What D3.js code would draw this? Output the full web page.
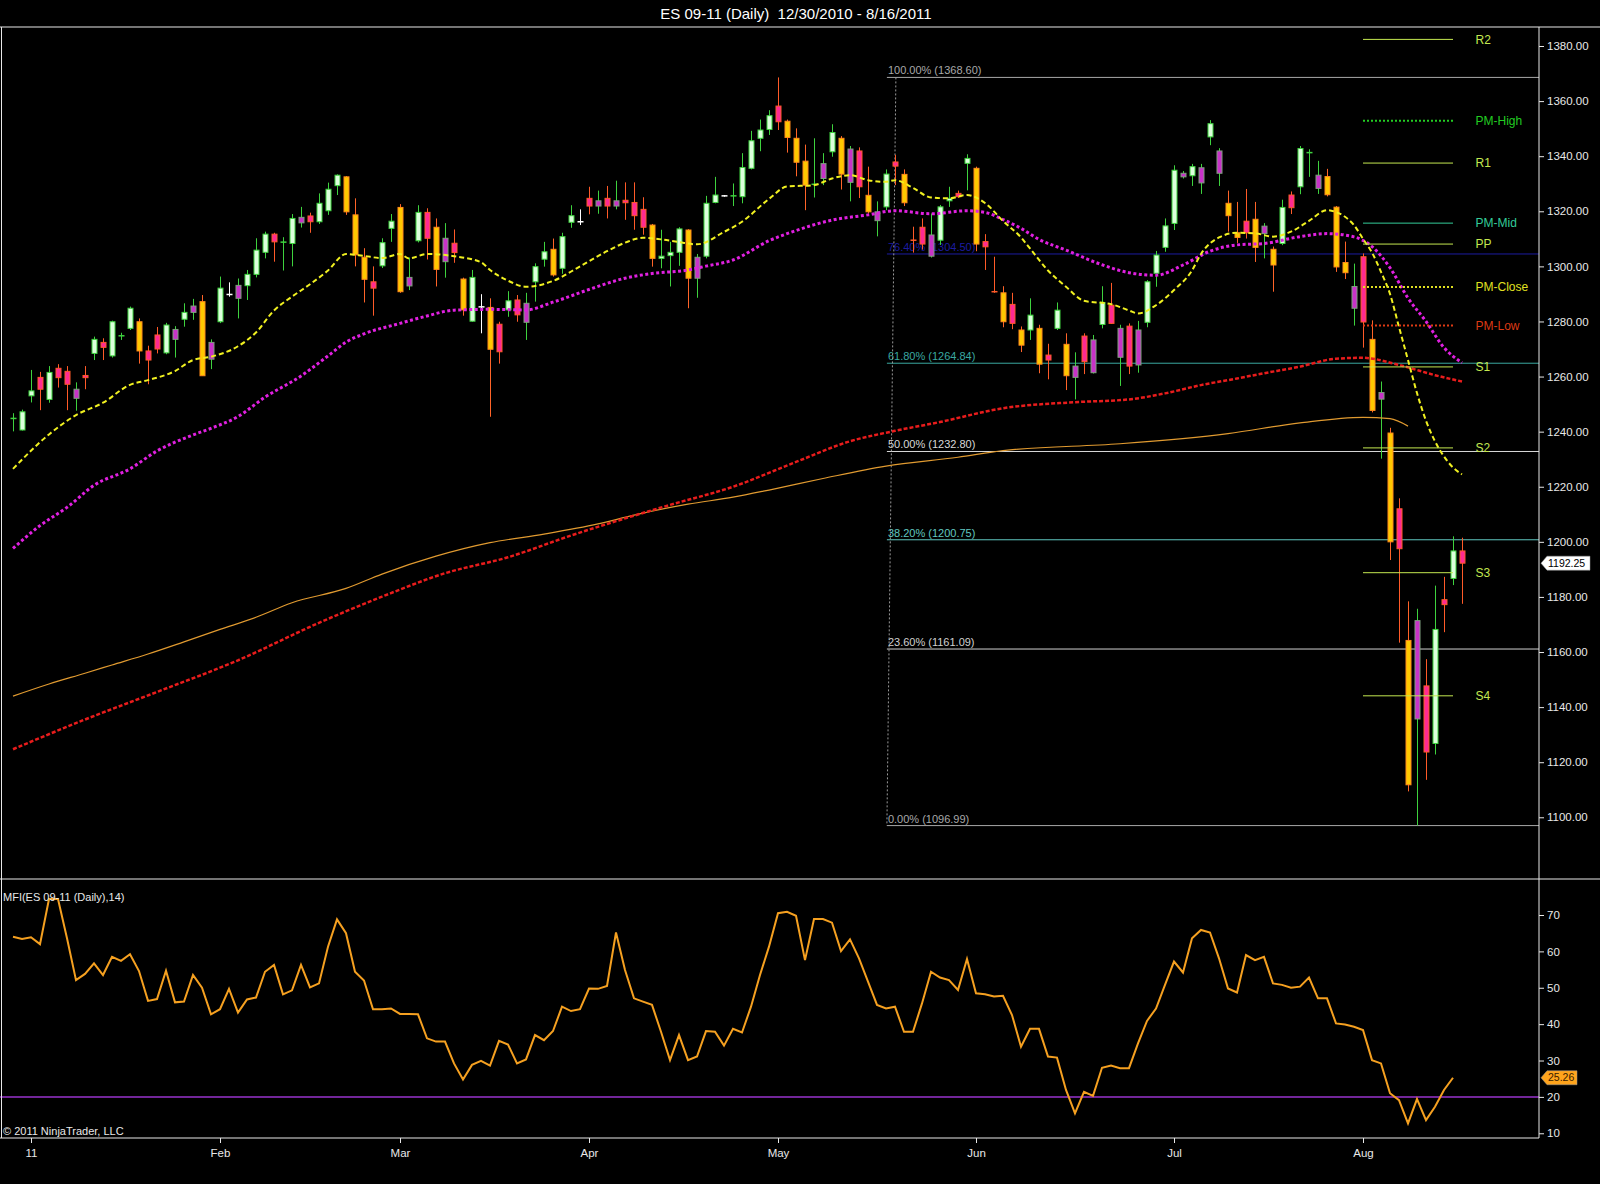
<!DOCTYPE html>
<html lang="en">
<head>
<meta charset="UTF-8" />
<title>ES 09-11 (Daily)</title>
<script src="https://d3js.org/d3.v7.min.js"></script>
<style>
  body { margin: 0; background: #000; }
  svg { display: block; }
  text { font-family: "Liberation Sans Narrow", "Arial Narrow", "Liberation Sans", Arial, sans-serif; }
</style>
</head>
<body>
<svg id="chart" width="1600" height="1184"></svg>
<script>
// ---- data (bar index 0 = 12/30/2010, 161 = 8/16/2011) ----
const opens = [
  1244.3,1240.6,1253.0,1259.7,1251.7,1263.0,1261.9,1252.1,1260.4,1268.4,
  1272.4,1267.5,1274.5,1277.5,1279.9,1269.3,1275.1,1268.6,1273.5,1280.8,
  1283.3,1287.2,1266.3,1279.9,1289.8,1288.4,1293.0,1297.1,1305.1,1311.7,
  1308.5,1308.3,1315.8,1318.3,1316.2,1320.2,1329.3,1332.5,1318.7,1303.3,
  1294.4,1300.2,1313.8,1321.4,1292.9,1309.3,1319.6,1314.2,1301.7,1308.4,
  1295.4,1280.1,1285.3,1285.1,1279.0,1284.2,1287.8,1279.7,1294.4,1302.6,
  1306.2,1299.3,1316.0,1316.2,1324.7,1321.9,1324.7,1321.9,1324.0,1323.2,
  1320.7,1315.0,1302.9,1303.9,1305.1,1313.2,1295.7,1303.7,1323.2,1325.6,
  1325.5,1325.3,1335.6,1346.5,1349.7,1358.2,1352.7,1346.5,1338.2,1329.5,
  1331.9,1341.6,1346.5,1330.5,1341.9,1325.8,1316.6,1321.6,1337.9,1333.4,
  1309.5,1314.2,1303.7,1309.5,1323.8,1326.5,1337.4,1335.6,1309.0,1290.8,
  1290.4,1286.2,1276.9,1276.9,1277.5,1267.8,1277.5,1271.7,1259.7,1274.7,
  1261.4,1278.9,1285.9,1267.0,1278.3,1264.2,1279.7,1297.5,1306.9,1315.6,
  1332.5,1332.9,1330.3,1347.0,1333.8,1322.9,1312.2,1316.4,1317.1,1311.9,
  1306.2,1308.3,1325.9,1328.9,1341.0,1328.3,1332.6,1321.5,1301.4,1284.8,
  1303.5,1273.5,1251.8,1239.5,1212.0,1164.2,1135.7,1147.7,1126.8,1179.0,
  1186.7,1196.7
];
const highs = [
  1246.7,1248.0,1262.4,1261.7,1263.8,1264.5,1263.8,1257.9,1263.8,1274.5,
  1273.9,1280.3,1275.9,1285.4,1281.1,1271.2,1278.0,1279.5,1278.3,1286.6,
  1288.2,1289.6,1273.5,1296.3,1294.2,1295.6,1298.7,1310.2,1312.6,1312.2,
  1310.6,1319.0,1321.6,1319.5,1326.5,1330.4,1333.4,1332.8,1324.7,1306.6,
  1300.0,1310.2,1319.0,1322.6,1303.2,1322.2,1321.1,1317.4,1315.7,1313.4,
  1295.9,1298.7,1289.9,1288.4,1279.9,1291.0,1289.6,1290.4,1301.1,1308.9,
  1310.1,1312.2,1322.2,1320.7,1328.9,1327.5,1329.2,1331.1,1330.5,1330.5,
  1325.1,1315.4,1313.3,1308.9,1314.2,1313.5,1304.5,1325.6,1332.5,1325.9,
  1330.1,1341.1,1349.2,1353.3,1356.7,1368.6,1353.3,1350.1,1344.2,1346.5,
  1341.1,1351.6,1347.3,1343.7,1343.2,1336.2,1323.6,1335.2,1340.5,1335.2,
  1314.4,1317.4,1319.2,1322.3,1328.9,1327.5,1340.7,1336.2,1311.7,1303.5,
  1292.8,1290.4,1278.2,1288.4,1278.8,1271.9,1286.9,1275.7,1268.8,1275.7,
  1275.1,1292.8,1294.0,1278.8,1279.3,1280.2,1295.0,1305.6,1317.4,1336.7,
  1334.6,1337.2,1337.2,1353.1,1342.9,1327.5,1323.4,1328.1,1323.4,1315.7,
  1307.2,1324.2,1327.2,1343.7,1342.5,1338.3,1335.4,1321.9,1309.0,1301.0,
  1304.7,1280.4,1258.2,1241.4,1215.8,1178.4,1175.7,1157.4,1184.1,1187.3,
  1202.0,1201.5
];
const lows = [
  1240.1,1240.4,1250.6,1247.8,1250.5,1256.0,1247.8,1247.6,1255.4,1266.0,
  1266.0,1266.9,1273.3,1276.9,1264.7,1257.2,1268.4,1268.1,1266.9,1278.1,
  1280.6,1260.3,1262.7,1279.4,1289.0,1281.1,1287.8,1296.0,1302.9,1301.7,
  1298.5,1300.0,1314.1,1312.2,1315.4,1318.7,1325.9,1318.7,1300.0,1286.9,
  1282.1,1299.4,1308.9,1290.4,1291.4,1308.7,1302.5,1292.7,1295.9,1301.3,
  1282.1,1279.9,1275.7,1245.4,1264.7,1281.7,1279.9,1273.3,1287.2,1299.9,
  1296.3,1297.3,1314.0,1315.0,1318.9,1319.1,1317.4,1320.7,1316.9,1313.3,
  1311.5,1299.9,1299.3,1292.7,1300.2,1284.8,1288.6,1302.9,1322.9,1325.3,
  1321.9,1322.9,1335.2,1341.8,1347.7,1349.5,1341.3,1332.7,1320.4,1325.0,
  1329.5,1339.8,1327.9,1323.6,1324.8,1319.2,1310.9,1320.4,1329.5,1321.9,
  1305.0,1306.1,1303.2,1307.8,1321.6,1324.8,1327.6,1305.5,1298.7,1290.4,
  1277.9,1277.2,1268.9,1273.3,1261.2,1259.0,1276.9,1255.1,1251.7,1260.9,
  1261.1,1277.5,1279.1,1256.6,1260.9,1261.4,1277.9,1292.6,1305.3,1313.2,
  1331.9,1329.2,1326.3,1344.0,1329.2,1312.6,1308.5,1310.1,1301.6,1302.9,
  1290.8,1307.7,1319.0,1326.2,1332.5,1326.3,1325.4,1298.0,1295.4,1278.5,
  1270.5,1247.0,1230.2,1193.4,1163.4,1109.4,1097.0,1113.6,1122.8,1167.2,
  1184.3,1177.5
];
const closes = [
  1244.8,1247.2,1254.8,1255.4,1261.5,1259.6,1257.2,1255.4,1259.6,1273.5,
  1270.6,1279.9,1274.8,1284.8,1269.3,1266.0,1270.0,1278.7,1277.1,1283.3,
  1285.6,1260.3,1272.4,1292.1,1289.8,1293.1,1297.1,1305.9,1311.7,1308.9,
  1308.8,1317.4,1317.8,1316.2,1322.9,1328.0,1333.1,1319.8,1304.2,1295.3,
  1292.1,1308.6,1316.4,1290.8,1296.0,1319.6,1310.2,1298.9,1310.2,1305.0,
  1284.2,1296.0,1285.3,1269.9,1269.0,1287.5,1282.4,1286.6,1299.9,1305.3,
  1296.9,1310.8,1318.4,1316.2,1321.9,1323.8,1321.9,1323.8,1323.1,1318.4,
  1314.2,1302.9,1303.7,1305.1,1313.6,1295.7,1303.3,1322.9,1325.9,1325.6,
  1325.6,1335.9,1345.6,1349.5,1354.7,1352.5,1346.8,1337.8,1329.5,1329.8,
  1337.3,1348.6,1333.5,1342.6,1328.9,1319.8,1319.8,1333.5,1336.4,1323.1,
  1309.5,1308.1,1311.4,1321.6,1324.7,1325.3,1339.2,1308.1,1307.1,1290.8,
  1279.9,1279.3,1271.4,1282.3,1264.5,1266.0,1284.1,1260.3,1263.8,1265.4,
  1273.3,1286.9,1279.3,1277.5,1263.8,1276.9,1294.4,1304.1,1314.7,1334.9,
  1333.8,1336.2,1335.8,1351.8,1341.9,1318.4,1310.5,1312.2,1306.9,1314.6,
  1300.5,1321.4,1321.3,1342.8,1341.3,1333.1,1326.0,1299.8,1297.7,1292.7,
  1279.8,1247.7,1254.2,1200.0,1197.5,1111.8,1171.4,1123.7,1168.2,1177.2,
  1196.7,1192.25
];
// bar paint: G up, V up (weaker), Y down, P down (weaker), g/w/r doji crosses
const paint = (
  "gGGPGPPVPG" + "PGgGYPPGVG" + "VYVGwVGGGP" + "gGVPGGGYYY" + "PGGYVGPYVP" +
  "YGwYPGPVGG" + "YGGwPVPVPP" + "PYGGGYVGGw" + "gGGGGPYYYg" + "VGYVPYVGPY" +
  "rPVGGPGYPr" + "YPYGYPGYVP" + "VGPVPVGGGG" + "VGVGVYYPYV" + "YGPGgVYYYV" +
  "PYVYPYVPGP" + "GP"
).split("");

// moving averages, sampled [bar index, price]
const maYellow = [[0,1226.5],[4,1239],[7,1246],[10,1250.5],[13,1257],[15,1258.7],[18,1262],[20,1266],[22,1267.2],[25,1271],[27,1276],[29,1284],[31,1289],[33,1293.5],[35,1298.5],[37,1304.5],[39,1303.8],[41,1303],[43,1304.5],[44,1302.9],[46,1304.5],[49,1303.7],[52,1301.5],[53,1298.7],[55,1294.8],[57,1292.6],[60,1294.7],[63,1300],[66,1305.5],[68,1308.6],[70,1310.4],[72,1309.8],[74,1308.8],[76,1308],[79,1312.5],[81,1316.2],[84,1324.5],[86,1329],[89,1329.5],[91,1331.9],[93,1333.1],[95,1331.3],[97,1330.7],[98,1331.3],[100,1328.5],[102,1325],[104,1324.7],[106,1325.9],[108,1323],[110,1316.5],[112,1310.5],[113,1306.5],[115,1298.5],[117,1292.6],[119,1287.5],[122,1286.3],[124,1284],[125,1282.9],[127,1285.9],[129,1291.4],[131,1298.5],[132,1304.5],[134,1310.5],[136,1312.2],[138,1312],[140,1310.8],[142,1312.6],[144,1316.5],[146,1320.4],[147,1319.7],[148,1318],[149,1315],[150,1310],[151,1305],[152,1298],[153,1290],[154,1278],[155,1266],[156,1254],[157,1244],[158,1236.5],[159,1231],[160,1227],[161,1224.5]];
const maMagenta = [[0,1197.6],[3,1205.9],[6,1212.5],[9,1220.5],[13,1226.5],[16,1233],[20,1238.8],[22,1241.2],[25,1245.5],[28,1252.5],[32,1260.2],[35,1267.5],[37,1272.5],[39,1275.5],[43,1279.3],[46,1282],[49,1284.1],[53,1284.4],[57,1284.2],[60,1287],[64,1291.6],[68,1295.7],[71,1297.4],[75,1298.7],[77,1300.1],[80,1302.3],[84,1309.3],[87,1313],[91,1316.8],[95,1318.7],[98,1320.2],[102,1319.1],[106,1320.2],[108,1319.6],[110,1317],[112,1313.8],[114,1309.8],[117,1305.9],[121,1300.6],[124,1297.7],[127,1296.8],[130,1300.5],[133,1305.5],[136,1307.8],[139,1308.3],[143,1310.8],[146,1311.9],[149,1310.7],[151,1307.2],[153,1299.5],[155,1288.5],[157,1280],[159,1270.5],[161,1265]];
const maRed = [[0,1124.7],[8,1135.5],[16,1145.5],[25,1157],[34,1170.6],[41,1180.1],[48,1188.6],[55,1194.4],[62,1202.3],[67,1207.5],[73,1213.4],[80,1220],[87,1229],[93,1236.5],[98,1240.3],[103,1243.5],[110,1248.5],[118,1250.7],[124,1251.7],[128,1253.9],[132,1256.9],[136,1259.3],[139,1261.2],[143,1263.6],[147,1266.5],[150,1266.8],[154,1264.2],[158,1260.5],[161,1258.2]];
const maOrange = [[0,1144],[4,1148.4],[8,1152.3],[11,1155.3],[15,1159.3],[19,1163.7],[23,1168.2],[27,1172.6],[31,1177.9],[37,1183.1],[41,1188.3],[47,1194.8],[53,1199.7],[59,1202.8],[65,1206.5],[69,1209.7],[75,1213.7],[80,1216.2],[84,1218.8],[90,1223],[97,1227.5],[105,1230.7],[110,1233.1],[123,1235.6],[135,1239.3],[143,1243.2],[150,1245.2],[153,1244.7],[155,1242]];

// MFI(14), one value per bar from bar 0
const mfi = [
  64.0,63.4,63.9,62.0,74.4,74.4,63.6,52.1,53.8,56.7,
  53.5,58.5,57.4,59.2,54.6,46.4,46.9,54.7,46.0,46.2,
  53.5,50.0,42.7,44.1,49.7,43.2,46.8,47.3,54.4,56.3,
  48.2,49.3,56.3,50.1,51.2,61.3,68.8,65.0,54.4,52.0,
  44.1,44.1,44.3,42.8,42.8,42.7,36.1,35.2,35.2,29.2,
  24.8,28.8,29.9,28.6,35.4,34.4,29.2,30.3,37.0,35.6,
  38.1,44.8,43.6,44.1,49.8,49.7,50.5,65.2,54.9,47.1,
  46.2,45.3,37.9,30.1,37.0,30.1,31.1,38.1,37.9,34.1,
  38.7,37.7,44.8,53.5,61.3,70.5,70.9,69.8,57.6,68.9,
  68.9,67.9,60.1,63.3,58.1,51.7,45.3,44.3,44.8,37.9,
  37.9,45.7,54.4,52.8,52.1,49.4,57.9,48.5,48.2,47.6,
  47.8,42.5,33.8,38.7,38.7,31.1,30.8,21.9,15.5,21.4,
  20.3,28.0,28.6,27.9,27.9,34.7,40.9,44.3,50.8,57.2,
  54.2,63.6,65.9,65.2,58.1,49.8,48.7,59.0,57.6,58.5,
  51.2,50.8,50.0,50.3,52.8,47.1,47.1,40.2,39.9,39.3,
  38.4,30.1,29.2,21.0,19.1,12.7,19.4,13.6,17.3,21.9,
  25.26
];

// fibonacci retracement of the May high / Aug low
const fibPct = ["100.00%","76.40%","61.80%","50.00%","38.20%","23.60%","0.00%"];
const fibPrice = [1368.60,1304.50,1264.84,1232.80,1200.75,1161.09,1096.99];
const fibColor = ["#a8a8a8","#1c1ca0","#3aa8a0","#d8d8d8","#60c8c0","#d0d0d0","#a8a8a8"];
const fibAnchor = [[98.1,1368.60],[97.1,1096.99]];

// pivots
const pivotNames = ["R2","PM-High","R1","PM-Mid","PP","PM-Close","PM-Low","S1","S2","S3","S4"];
const pivotValues = [1382.4,1352.9,1337.5,1315.7,1308.1,1292.5,1278.5,1263.5,1234.1,1188.8,1144.1];
const pivotColor = ["#c4e850","#22cc22","#c4e850","#33cc99","#c4e850","#e0e020","#dd3a14","#c4e850","#c4e850","#c4e850","#c4e850"];
const pivotDotted = [false,true,false,false,false,true,true,false,false,false,false];

// axes
const priceTicks = [1100,1120,1140,1160,1180,1200,1220,1240,1260,1280,1300,1320,1340,1360,1380];
const mfiTicks = [10,20,30,40,50,60,70];
const monthIdx = [2,23,43,64,85,107,129,150];
const monthLabels = ["11","Feb","Mar","Apr","May","Jun","Jul","Aug"];

// ---- layout ----
const axisX = 1539, topY = 27, priceBot = 879, mfiBot = 1138;
const svg = d3.select("#chart");
svg.append("rect").attr("width", 1600).attr("height", 1184).attr("fill", "#000");

const x = d3.scaleLinear().domain([0, 161]).range([13, 1462]);
const y = d3.scaleLinear().domain([1077.6, 1386.9]).range([priceBot, topY]);
const yM = d3.scaleLinear().domain([8.7, 79.9]).range([mfiBot, priceBot]);

svg.append("clipPath").attr("id", "pclip").append("rect")
  .attr("x", 0).attr("y", topY).attr("width", axisX).attr("height", priceBot - topY);

// title
svg.append("text").attr("x", 796).attr("y", 19).attr("text-anchor", "middle")
  .attr("fill", "#fff").attr("font-size", 15)
  .text("ES 09-11 (Daily)\u00A0\u00A012/30/2010 - 8/16/2011");

const pane = svg.append("g").attr("clip-path", "url(#pclip)");

// fib levels
const fibX0 = x(fibAnchor[1][0]);
fibPrice.forEach((p, i) => {
  pane.append("line").attr("x1", fibX0).attr("x2", axisX)
    .attr("y1", y(p)).attr("y2", y(p))
    .attr("stroke", fibColor[i]).attr("stroke-width", 1);
  pane.append("text").attr("x", fibX0 + 1).attr("y", y(p) - 3)
    .attr("fill", fibColor[i]).attr("font-size", 11)
    .text(fibPct[i] + " (" + p.toFixed(2) + ")");
});
pane.append("line")
  .attr("x1", x(fibAnchor[0][0])).attr("y1", y(fibAnchor[0][1]))
  .attr("x2", x(fibAnchor[1][0])).attr("y2", y(fibAnchor[1][1]))
  .attr("stroke", "#9a9a9a").attr("stroke-width", 1).attr("stroke-dasharray", "2,2");

// candles
const bodyCol = {
  G: { fill: "#dcffdc", stroke: "#3ed23e", wick: "#3ed23e" },
  V: { fill: "#c832c8", stroke: "#7f9f7f", wick: "#3ed23e" },
  Y: { fill: "#ffc800", stroke: "#ff8a1a", wick: "#ff6428" },
  P: { fill: "#ff2a92", stroke: "#ff5a28", wick: "#ff5a28" }
};
const crossCol = { g: "#3ed23e", w: "#ffffff", r: "#ff5a28" };

const bars = pane.append("g").selectAll("g").data(closes.map((c, i) => i)).enter().append("g");
bars.append("line")
  .attr("x1", i => x(i) + 0.5).attr("x2", i => x(i) + 0.5)
  .attr("y1", i => y(highs[i])).attr("y2", i => y(lows[i]))
  .attr("stroke", i => bodyCol[paint[i]] ? bodyCol[paint[i]].wick : crossCol[paint[i]])
  .attr("stroke-width", 1);
bars.filter(i => bodyCol[paint[i]]).append("rect")
  .attr("x", i => x(i) - 2)
  .attr("y", i => y(Math.max(opens[i], closes[i])))
  .attr("width", 5)
  .attr("height", i => Math.max(2, Math.abs(y(opens[i]) - y(closes[i]))))
  .attr("fill", i => bodyCol[paint[i]].fill)
  .attr("stroke", i => bodyCol[paint[i]].stroke).attr("stroke-width", 1);
bars.filter(i => !bodyCol[paint[i]]).append("line")
  .attr("x1", i => x(i) - 2.5).attr("x2", i => x(i) + 3.5)
  .attr("y1", i => y(closes[i])).attr("y2", i => y(closes[i]))
  .attr("stroke", i => crossCol[paint[i]]).attr("stroke-width", 1.5);

// moving averages
const maLine = d3.line().x(d => x(d[0])).y(d => y(d[1])).curve(d3.curveMonotoneX);
pane.append("path").datum(maOrange).attr("d", maLine)
  .attr("fill", "none").attr("stroke", "#e09a30").attr("stroke-width", 1.2);
pane.append("path").datum(maRed).attr("d", maLine)
  .attr("fill", "none").attr("stroke", "#e81c1c").attr("stroke-width", 2.5).attr("stroke-dasharray", "4,2");
pane.append("path").datum(maMagenta).attr("d", maLine)
  .attr("fill", "none").attr("stroke", "#e020e0").attr("stroke-width", 3).attr("stroke-dasharray", "3,2.5");
pane.append("path").datum(maYellow).attr("d", maLine)
  .attr("fill", "none").attr("stroke", "#f0f020").attr("stroke-width", 2).attr("stroke-dasharray", "5,3");

// pivots
pivotValues.forEach((v, i) => {
  pane.append("line").attr("x1", x(150)).attr("x2", x(160))
    .attr("y1", y(v)).attr("y2", y(v))
    .attr("stroke", pivotColor[i]).attr("stroke-width", pivotDotted[i] ? 2 : 1)
    .attr("stroke-dasharray", pivotDotted[i] ? "2,2" : null);
  pane.append("text").attr("x", x(162.5)).attr("y", y(v)).attr("dy", "0.35em")
    .attr("fill", pivotColor[i]).attr("font-size", 12).text(pivotNames[i]);
});

// MFI panel
svg.append("line").attr("x1", 0).attr("x2", axisX).attr("y1", yM(20)).attr("y2", yM(20))
  .attr("stroke", "#9933cc").attr("stroke-width", 1.5);
svg.append("path").datum(mfi)
  .attr("d", d3.line().x((d, i) => x(i)).y(d => yM(d)))
  .attr("fill", "none").attr("stroke", "#f5a020").attr("stroke-width", 2);
svg.append("text").attr("x", 3).attr("y", 901).attr("fill", "#e8e8e8").attr("font-size", 11)
  .text("MFI(ES 09-11 (Daily),14)");
svg.append("text").attr("x", 3).attr("y", 1135).attr("fill", "#e8e8e8").attr("font-size", 11)
  .text("\u00A9 2011 NinjaTrader, LLC");

// frame
const frame = "#e8e8e8";
svg.append("line").attr("x1", 0).attr("x2", 1600).attr("y1", topY).attr("y2", topY).attr("stroke", frame);
svg.append("line").attr("x1", 0).attr("x2", 1600).attr("y1", priceBot).attr("y2", priceBot).attr("stroke", frame);
svg.append("line").attr("x1", 0).attr("x2", axisX).attr("y1", mfiBot).attr("y2", mfiBot).attr("stroke", frame);
svg.append("line").attr("x1", 1.5).attr("x2", 1.5).attr("y1", topY).attr("y2", mfiBot).attr("stroke", frame);
svg.append("line").attr("x1", axisX).attr("x2", axisX).attr("y1", topY).attr("y2", mfiBot).attr("stroke", frame);

// axes
function styleAxis(g) {
  g.select(".domain").remove();
  g.selectAll("line").attr("stroke", frame);
  g.selectAll("text").attr("fill", "#e8e8e8").attr("font-size", 11.5)
    .attr("font-family", "'Liberation Sans Narrow', 'Arial Narrow', Arial, sans-serif");
}
svg.append("g").attr("transform", `translate(${axisX},0)`)
  .call(d3.axisRight(y).tickValues(priceTicks).tickFormat(d3.format(".2f")).tickSize(5).tickPadding(3))
  .call(styleAxis);
svg.append("g").attr("transform", `translate(${axisX},0)`)
  .call(d3.axisRight(yM).tickValues(mfiTicks).tickFormat(d3.format("d")).tickSize(5).tickPadding(3))
  .call(styleAxis);
svg.append("g").attr("transform", `translate(0,${mfiBot})`)
  .call(d3.axisBottom(x).tickValues(monthIdx).tickFormat((d, i) => monthLabels[i]).tickSize(5).tickPadding(6))
  .call(styleAxis);

// last value markers
function marker(yy, label, w, fill, textFill) {
  const g = svg.append("g");
  g.append("path")
    .attr("d", `M${axisX + 2},${yy} L${axisX + 8},${yy - 7} L${axisX + w},${yy - 7} L${axisX + w},${yy + 7} L${axisX + 8},${yy + 7} Z`)
    .attr("fill", fill).attr("stroke", "#999").attr("stroke-width", 0.5);
  g.append("text").attr("x", axisX + 9).attr("y", yy).attr("dy", "0.35em")
    .attr("fill", textFill).attr("font-size", 10.5).text(label);
}
marker(y(closes[closes.length - 1]), closes[closes.length - 1].toFixed(2), 51, "#ffffff", "#000");
marker(yM(mfi[mfi.length - 1]), mfi[mfi.length - 1].toFixed(2), 38, "#ffa41c", "#3a2000");
</script>
</body>
</html>
